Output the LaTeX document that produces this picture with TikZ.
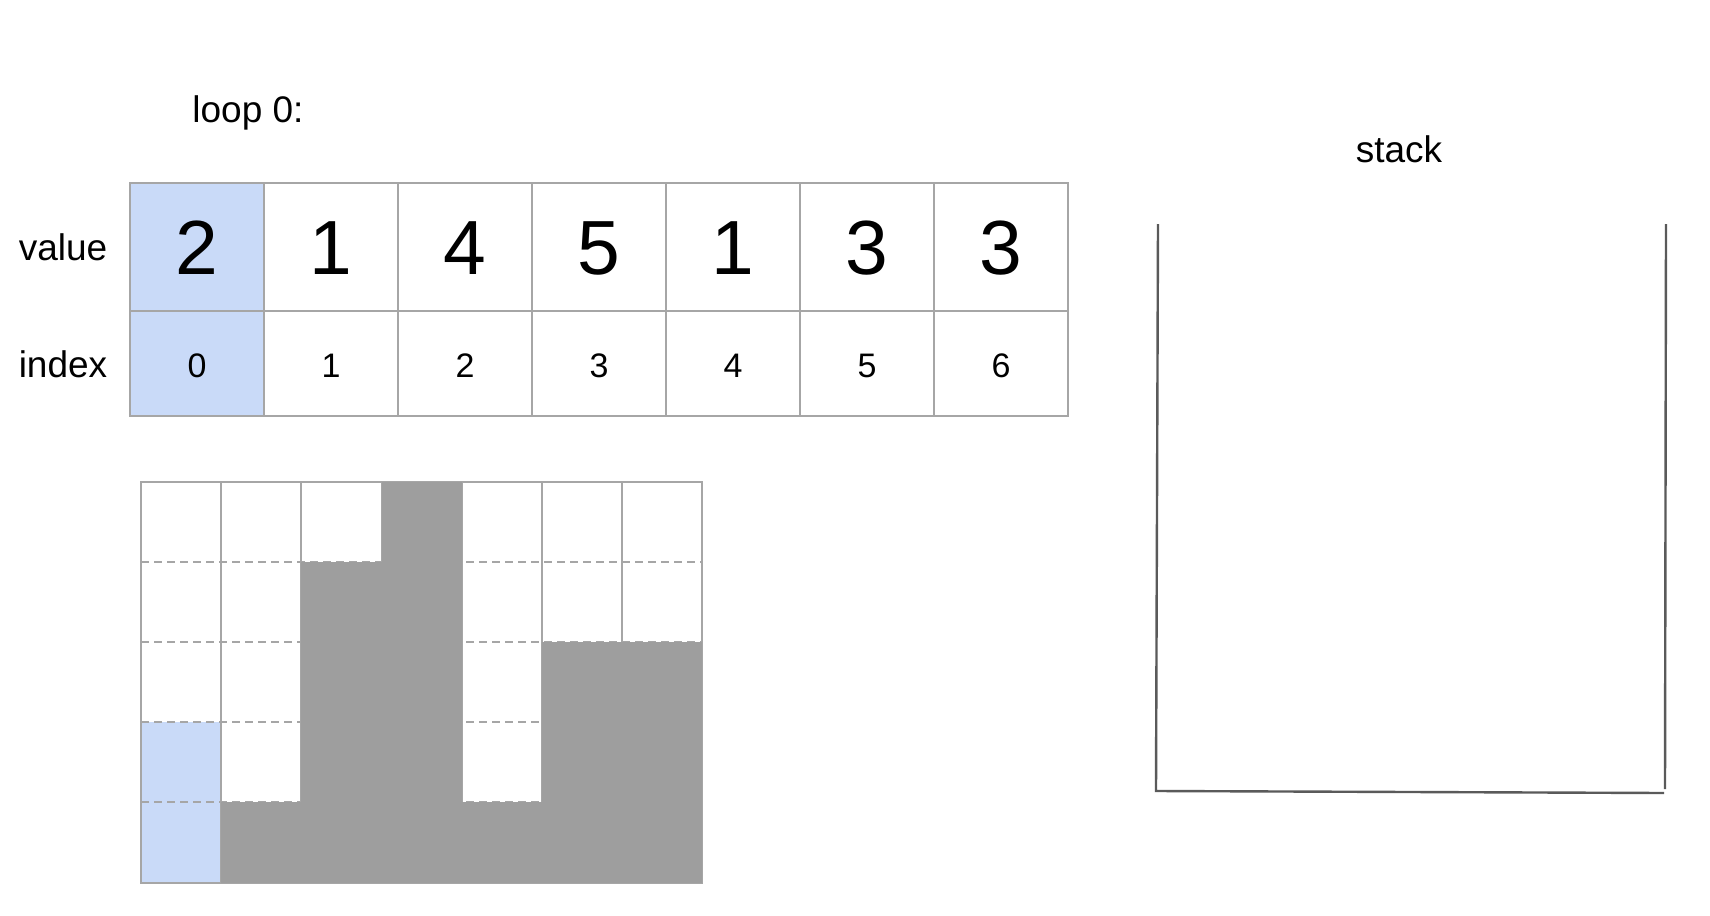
\documentclass[tikz,border=0pt]{standalone}
\usepackage{fontspec}
\setmainfont{Liberation Sans}
\definecolor{gridgray}{HTML}{A6A6A6}
\definecolor{bargray}{HTML}{9E9E9E}
\definecolor{selblue}{HTML}{C9DAF8}
\definecolor{stackline}{HTML}{5A5A5A}
\begin{document}
\begin{tikzpicture}[x=0.5pt,y=-0.5pt,
  lbl/.style={inner sep=0pt,anchor=base,font=\fontsize{18.5}{22}\selectfont},
  bigdigit/.style={inner sep=0pt,anchor=base,font=\fontsize{38.4}{46}\selectfont},
  smalldigit/.style={inner sep=0pt,anchor=base,font=\fontsize{17}{20}\selectfont},
  gridline/.style={draw=gridgray,line width=1pt},
  dashline/.style={draw=gridgray,line width=1pt,dash pattern=on 4pt off 2.5pt},
  stackwall/.style={draw=stackline,line width=1.2pt}]
\useasboundingbox (0,0) rectangle (1710,916);
\fill[white] (0,0) rectangle (1710,916);

% title
\node[lbl] (loop) at (248,122) {loop 0:};

% table
\fill[selblue] (130,183) rectangle (264,416);
\draw[gridline] (130,183) rectangle (1068,416);
\draw[gridline] (130,311) -- (1068,311);
\foreach \i in {1,...,6}{
  \draw[gridline] ({130+134*\i},183) -- ({130+134*\i},416);
}
\node[lbl] (valuelbl) at (63,260) {value};
\node[lbl] (indexlbl) at (63,377) {index};
\foreach \v [count=\i from 0] in {2,1,4,5,1,3,3}{
  \node[bigdigit] (val\i) at ({197+134*\i},274) {\v};
  \node[smalldigit] (idx\i) at ({197+134*\i},377) {\i};
}

% bar chart
\def\bx{141}\def\bw{80.2}\def\by{482}\def\bh{80.1}
\fill[selblue] (\bx,{\by+3*\bh}) rectangle ({\bx+\bw},{\by+5*\bh});
\foreach \k in {1,...,4}{
  \draw[dashline] (\bx,{\by+\k*\bh}) -- ({\bx+7*\bw},{\by+\k*\bh});
}
\foreach \i in {1,...,6}{
  \draw[gridline] ({\bx+\i*\bw},\by) -- ({\bx+\i*\bw},{\by+5*\bh});
}
\draw[gridline] (\bx,\by) rectangle ({\bx+7*\bw},{\by+5*\bh});
\foreach \v [count=\i from 1] in {1,4,5,1,3,3}{
  \fill[bargray] ({\bx+\i*\bw},{\by+(5-\v)*\bh}) rectangle ({\bx+(\i+1)*\bw},{\by+5*\bh});
}

% stack
\node[lbl] (stacklbl) at (1399,162) {stack};
\coordinate (stl) at (1158,224);
\coordinate (sbl) at (1156,791);
\coordinate (sbr) at (1664,793);
\coordinate (str) at (1666,224);
\coordinate (srb) at (1665,789);
\draw[stackwall] (stl) -- (sbl) -- (sbr);
\draw[stackwall] (str) -- (srb);
\end{tikzpicture}
\end{document}
